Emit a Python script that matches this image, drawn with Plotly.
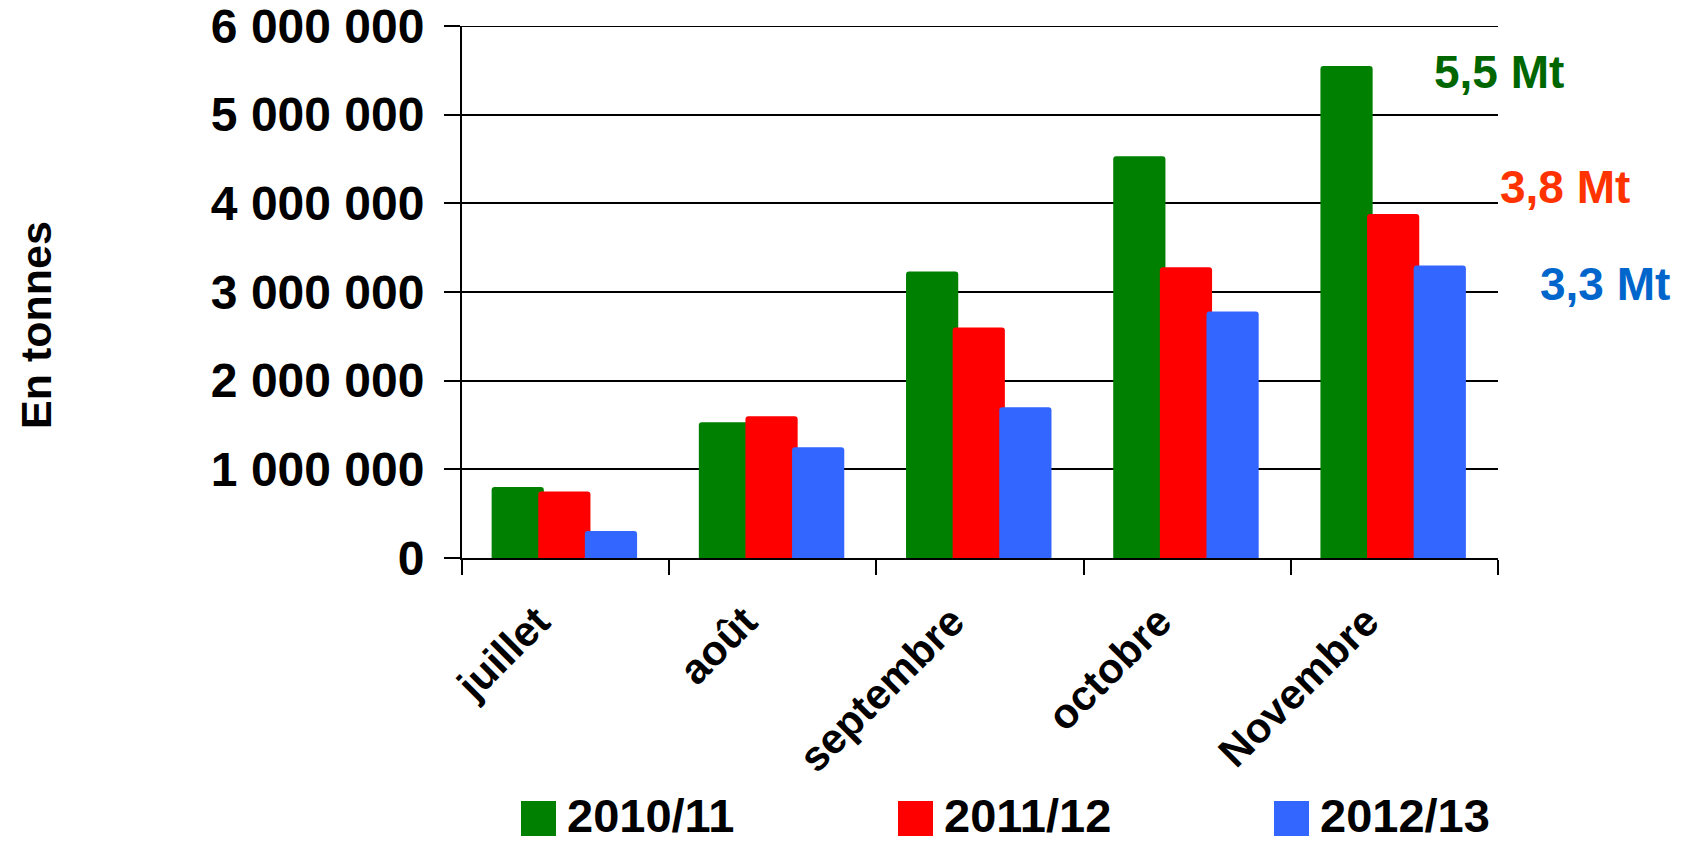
import plotly.graph_objects as go

# ---- data ----
months = ["juillet", "août", "septembre", "octobre", "Novembre"]
series_names = ["2010/11", "2011/12", "2012/13"]
s2010_11 = [800000, 1530000, 3230000, 4530000, 5550000]
s2011_12 = [750000, 1600000, 2600000, 3280000, 3880000]
s2012_13 = [305000, 1250000, 1700000, 2780000, 3300000]
series_values = [s2010_11, s2011_12, s2012_13]
series_colors = ["#008000", "#FF0000", "#3366FF"]

y_tickvals = [0, 1000000, 2000000, 3000000, 4000000, 5000000, 6000000]
y_ticktext = ["0", "1 000 000", "2 000 000", "3 000 000", "4 000 000", "5 000 000", "6 000 000"]

total_labels = ["5,5 Mt", "3,8 Mt", "3,3 Mt"]
total_label_colors = ["#006600", "#FF3300", "#0066CC"]
y_title = "En tonnes"

# ---- layout geometry (pixels) ----
W, H = 1683, 843
L, R, T, B = 462, 185, 26, 285
PW, PH = W - L - R, H - T - B


def px(x):
    return (x - L) / PW


def py(y):
    return (H - B - y) / PH


FONT = "Liberation Sans, Arial, sans-serif"

fig = go.Figure()
bar_width = 0.252
offsets = [-0.357, -0.132, 0.093]
for name, vals, col, off in zip(series_names, series_values, series_colors, offsets):
    fig.add_trace(go.Bar(
        x=months, y=vals, name=name,
        marker=dict(color=col, line=dict(width=0)),
        width=bar_width, offset=off, showlegend=False,
    ))

# annotations: totals
ann_pos = [(1499, 72), (1565, 187), (1605, 284)]
annotations = []
for txt, col, (ax, ay) in zip(total_labels, total_label_colors, ann_pos):
    annotations.append(dict(
        x=px(ax), y=py(ay), xref="paper", yref="paper", text=txt, showarrow=False,
        xanchor="center", yanchor="middle",
        font=dict(family=FONT, size=46, color=col, weight="bold"),
    ))

annotations.append(dict(
    x=px(36), y=py(325), xref="paper", yref="paper", text=y_title, showarrow=False,
    textangle=-90, xanchor="center", yanchor="middle",
    font=dict(family=FONT, size=43, color="black", weight="bold"),
))

shapes = []
# top gridline (plotly drops gridlines lying on the plot edge)
shapes.append(dict(
    type="line", xref="paper", yref="y", x0=0, x1=1,
    y0=y_tickvals[-1], y1=y_tickvals[-1], line=dict(color="black", width=2), layer="below",
))

# manual legend
leg_x = [521, 898, 1274]
for name, col, lx in zip(series_names, series_colors, leg_x):
    shapes.append(dict(
        type="rect", xref="paper", yref="paper",
        x0=px(lx), x1=px(lx + 35), y0=py(836), y1=py(801),
        fillcolor=col, line=dict(width=0),
    ))
    annotations.append(dict(
        x=px(lx + 44), y=py(816), xref="paper", yref="paper", text=name, showarrow=False,
        xanchor="left", yanchor="middle",
        font=dict(family=FONT, size=47, color="black", weight="bold"),
    ))

fig.update_layout(
    width=W, height=H,
    margin=dict(l=L, r=R, t=T, b=B, pad=0),
    paper_bgcolor="white", plot_bgcolor="white",
    barmode="overlay", barcornerradius=3,
    showlegend=False,
    font=dict(family=FONT, color="black", weight="bold"),
    annotations=annotations, shapes=shapes,
    xaxis=dict(
        type="category", tickson="boundaries", ticks="outside", ticklen=15,
        tickwidth=2, tickcolor="black", showline=True, linecolor="black", linewidth=2,
        showgrid=False, tickangle=-45, automargin=False,
        ticklabelstandoff=20, ticklabelshift=-28,
        tickfont=dict(family=FONT, size=42, color="black", weight="bold"),
    ),
    yaxis=dict(
        range=[0, y_tickvals[-1]], tickvals=y_tickvals, ticktext=y_ticktext,
        ticks="outside", ticklen=16, tickwidth=2, tickcolor="black",
        showline=True, linecolor="black", linewidth=2,
        showgrid=True, gridcolor="black", gridwidth=2, zeroline=False,
        automargin=False, ticklabelstandoff=10, ticklabeloverflow="allow",
        tickfont=dict(family=FONT, size=48, color="black", weight="bold"),
    ),
)

fig.write_html(
    "out.html",
    config={"displayModeBar": False},
    post_script="document.body.style.margin='0';document.body.style.overflow='hidden';",
)
